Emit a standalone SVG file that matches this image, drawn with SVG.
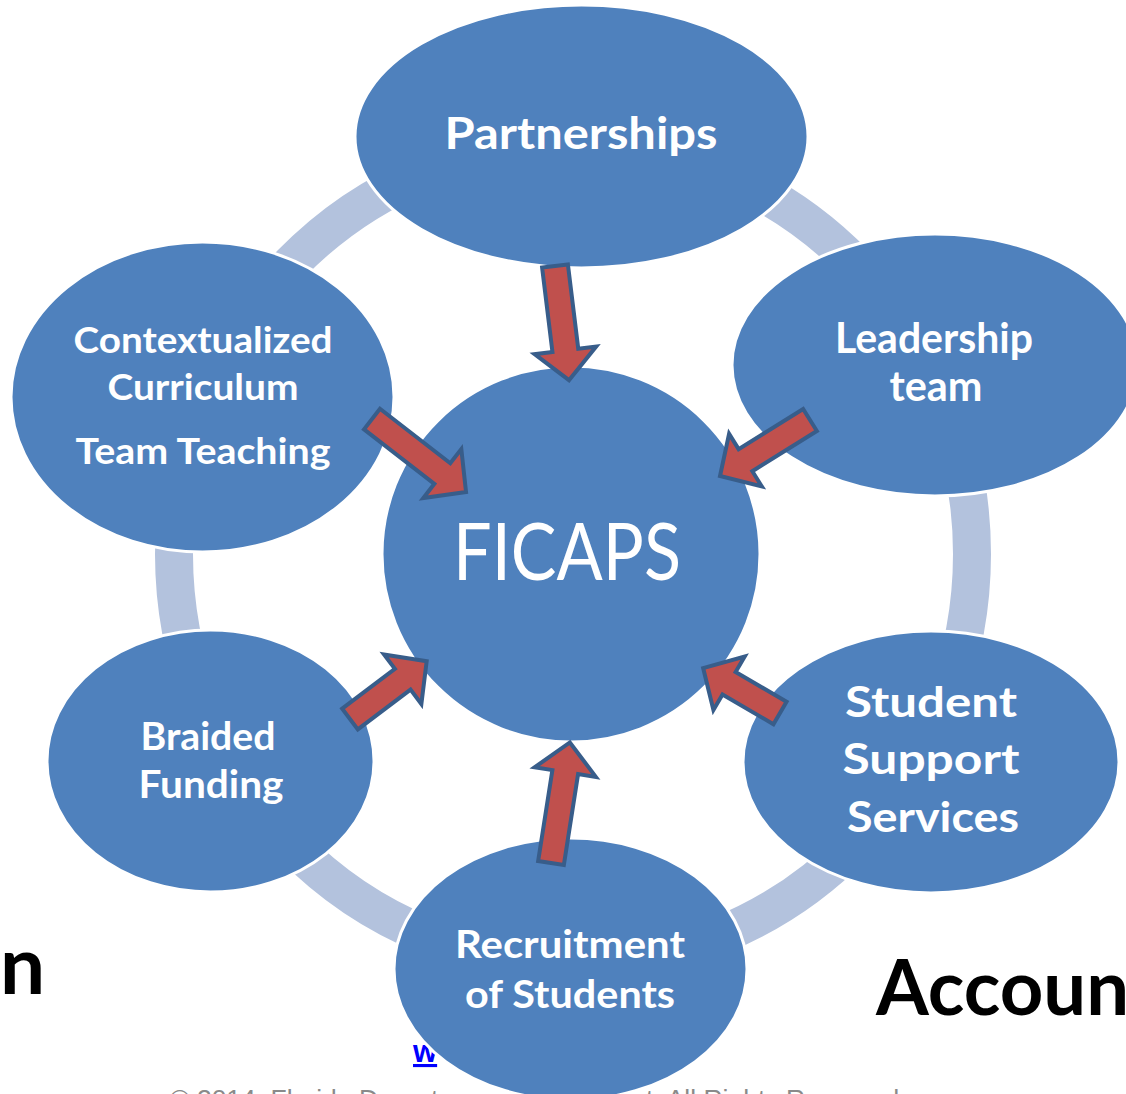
<svg xmlns="http://www.w3.org/2000/svg" width="1126" height="1094" viewBox="0 0 1126 1094">
  <style>
    .node { fill: #4f81bd; stroke: #ffffff; stroke-width: 3; }
    .lbl { font-family: Lato, "Open Sans", "Liberation Sans", sans-serif; font-weight: bold; fill: #ffffff; text-anchor: middle; }
    .center { font-family: Lato, "Open Sans", "Liberation Sans", sans-serif; font-weight: normal; fill: #ffffff; text-anchor: middle; }
    .arrow { fill: #c0504d; stroke: #385d8a; stroke-width: 4; stroke-linejoin: miter; }
    .big { font-family: Lato, "Open Sans", "Liberation Sans", sans-serif; font-weight: bold; fill: #000000; }
    .foot { font-family: "Liberation Sans", Arial, sans-serif; fill: #8a8a8a; font-size: 26.5px; }
  </style>
  <rect width="1126" height="1094" fill="#ffffff"/>

  <!-- background texts -->
  <text class="big" x="45" y="994" font-size="80" text-anchor="end">n</text>
  <text class="big" x="876" y="1015" font-size="76">Accoun</text>
  <text x="413" y="1062" font-family="'Liberation Sans', Arial, sans-serif" font-weight="bold" font-size="31" fill="#0000ff" text-decoration="underline">w</text>
  <text class="foot" x="170" y="1108">© 2014, Florida Departmen</text>
  <text class="foot" x="646" y="1108">t. All Rights Reserved</text>

  <!-- ring -->
  <g id="ring">
    <ellipse cx="573" cy="554" rx="399" ry="410" fill="none" stroke="#b3c2dd" stroke-width="38"/>
  </g>

  <g id="node-partnerships">
    <ellipse class="node" cx="581.5" cy="136.5" rx="226.5" ry="131.5"/>
    <text class="lbl" x="581" y="149" font-size="43" textLength="273" lengthAdjust="spacingAndGlyphs">Partnerships</text>
  </g>
  <g id="node-leadership">
    <ellipse class="node" cx="935" cy="365" rx="203" ry="131"/>
    <text class="lbl" x="934" y="353" font-size="42" textLength="198" lengthAdjust="spacingAndGlyphs">Leadership</text>
    <text class="lbl" x="936" y="401" font-size="42" textLength="93" lengthAdjust="spacingAndGlyphs">team</text>
  </g>
  <g id="node-student-support">
    <ellipse class="node" cx="931" cy="762" rx="188" ry="131"/>
    <text class="lbl" x="931" y="717" font-size="42" textLength="172" lengthAdjust="spacingAndGlyphs">Student</text>
    <text class="lbl" x="931" y="774" font-size="42" textLength="177" lengthAdjust="spacingAndGlyphs">Support</text>
    <text class="lbl" x="933" y="832" font-size="42" textLength="172" lengthAdjust="spacingAndGlyphs">Services</text>
  </g>
  <g id="node-recruitment">
    <ellipse class="node" cx="570.5" cy="969" rx="176.5" ry="131"/>
    <text class="lbl" x="570" y="958" font-size="39" textLength="230" lengthAdjust="spacingAndGlyphs">Recruitment</text>
    <text class="lbl" x="570" y="1008" font-size="39" textLength="210" lengthAdjust="spacingAndGlyphs">of Students</text>
  </g>
  <g id="node-braided">
    <ellipse class="node" cx="210.5" cy="761" rx="163.5" ry="131"/>
    <text class="lbl" x="208" y="750" font-size="39" textLength="135" lengthAdjust="spacingAndGlyphs">Braided</text>
    <text class="lbl" x="211" y="798" font-size="39" textLength="145" lengthAdjust="spacingAndGlyphs">Funding</text>
  </g>
  <g id="node-contextualized">
    <ellipse class="node" cx="202.5" cy="397" rx="191.5" ry="155"/>
    <text class="lbl" x="203" y="353" font-size="36" textLength="259" lengthAdjust="spacingAndGlyphs">Contextualized</text>
    <text class="lbl" x="203" y="400" font-size="36" textLength="191" lengthAdjust="spacingAndGlyphs">Curriculum</text>
    <text class="lbl" x="203" y="464" font-size="36" textLength="255" lengthAdjust="spacingAndGlyphs">Team Teaching</text>
  </g>
  <g id="node-ficaps">
    <ellipse class="node" cx="571" cy="554" rx="189" ry="188"/>
    <text class="center" x="567" y="580" font-size="80" textLength="228" lengthAdjust="spacingAndGlyphs">FICAPS</text>
  </g>

  <g id="connectors">
    <polygon class="arrow" transform="translate(555,266) rotate(83)" points="0,-13 85,-13 85,-31 115,0 85,31 85,13 0,13"/>
    <polygon class="arrow" transform="translate(372,419) rotate(37.8)" points="0,-13 89,-13 89,-31 119,0 89,31 89,13 0,13"/>
    <polygon class="arrow" transform="translate(810,420) rotate(148.1)" points="0,-13 76,-13 76,-31 106,0 76,31 76,13 0,13"/>
    <polygon class="arrow" transform="translate(350,719) rotate(-37)" points="0,-13 66,-13 66,-31 96,0 66,31 66,13 0,13"/>
    <polygon class="arrow" transform="translate(780,713) rotate(-149.7)" points="0,-13 59,-13 59,-31 89,0 59,31 59,13 0,13"/>
    <polygon class="arrow" transform="translate(551,863) rotate(-81.1)" points="0,-13 92,-13 92,-31 122,0 92,31 92,13 0,13"/>
  </g>
</svg>
